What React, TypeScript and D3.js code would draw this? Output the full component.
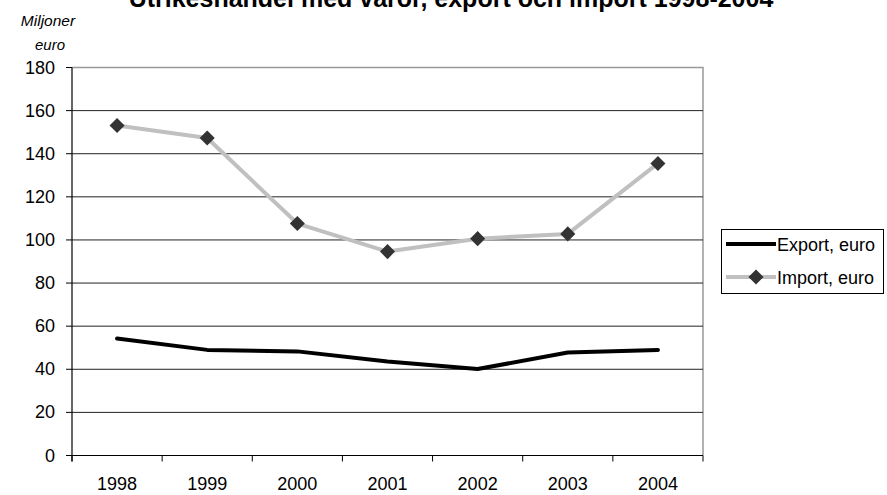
import React from "react";
import * as d3 from "d3";

const years = ["1998", "1999", "2000", "2001", "2002", "2003", "2004"];
const exportValues = [54.3, 49, 48.3, 43.6, 40.1, 47.8, 49];
const importValues = [153.1, 147.3, 107.6, 94.6, 100.6, 102.8, 135.5];
const yTicks = [0, 20, 40, 60, 80, 100, 120, 140, 160, 180];

const W = 887;
const H = 495;
const left = 72;
const right = 703;
const top = 67.5;
const bottom = 455.5;
const font = "Liberation Sans, Arial, sans-serif";

function App() {
  const x = d3.scaleBand().domain(years).range([left, right]);
  const y = d3.scaleLinear().domain([0, 180]).range([bottom, top]);
  const cx = (d: string) => (x(d) as number) + x.bandwidth() / 2;

  const line = d3
    .line<number>()
    .x((d, i) => cx(years[i]))
    .y(d => y(d));

  const diamond = d3.symbol().type(d3.symbolDiamond2).size(145)();

  return (
    <svg width={W} height={H} style={{ position: "absolute", left: 0, top: 0, background: "#fff" }}>
      <text x={451} y={7} textAnchor="middle" fontFamily={font} fontWeight="bold" fontSize={25}>
        Utrikeshandel med varor, export och import 1998-2004
      </text>
      <text x={48} y={26} textAnchor="middle" fontFamily={font} fontStyle="italic" fontSize={15.5}>
        Miljoner
      </text>
      <text x={50} y={50} textAnchor="middle" fontFamily={font} fontStyle="italic" fontSize={15}>
        euro
      </text>

      {/* plot border */}
      <path d={`M${left},${top}H${right}V${bottom}`} fill="none" stroke="#999" strokeWidth={1.5} />

      {yTicks.map(t => (
        <g key={t}>
          {t > 0 && t < 180 && (
            <line x1={left} x2={right} y1={y(t)} y2={y(t)} stroke="#222" strokeWidth={1} />
          )}
          <line x1={left - 6} x2={left} y1={y(t)} y2={y(t)} stroke="#000" strokeWidth={1} />
          <text x={55} y={y(t) + 6} textAnchor="end" fontFamily={font} fontSize={18}>
            {t}
          </text>
        </g>
      ))}

      {years.map(yr => (
        <g key={yr}>
          <line x1={x(yr) as number} x2={x(yr) as number} y1={bottom} y2={bottom + 6} stroke="#000" />
          <text x={cx(yr)} y={490} textAnchor="middle" fontFamily={font} fontSize={18}>
            {yr}
          </text>
        </g>
      ))}
      <line x1={right} x2={right} y1={bottom} y2={bottom + 6} stroke="#000" />

      <line x1={left} x2={right} y1={bottom} y2={bottom} stroke="#000" strokeWidth={1} />
      <line x1={left} x2={left} y1={top} y2={bottom + 6} stroke="#000" strokeWidth={1.2} />

      <path d={line(importValues) || ""} fill="none" stroke="#c0c0c0" strokeWidth={4} strokeLinejoin="round" />
      <path d={line(exportValues) || ""} fill="none" stroke="#000" strokeWidth={4} strokeLinejoin="round" strokeLinecap="round" />
      {importValues.map((v, i) => (
        <path key={i} d={diamond || ""} transform={`translate(${cx(years[i])},${y(v)})`} fill="#333" />
      ))}

      {/* legend */}
      <rect x={721.5} y={229.5} width={162} height={64} fill="#fff" stroke="#000" strokeWidth={1} />
      <line x1={726} x2={776} y1={244} y2={244} stroke="#000" strokeWidth={4} />
      <text x={777} y={251} fontFamily={font} fontSize={18}>Export, euro</text>
      <line x1={726} x2={776} y1={277} y2={277} stroke="#c0c0c0" strokeWidth={4} />
      <path d={diamond || ""} transform="translate(756,277)" fill="#333" />
      <text x={777} y={284} fontFamily={font} fontSize={18}>Import, euro</text>
    </svg>
  );
}

export default App;
